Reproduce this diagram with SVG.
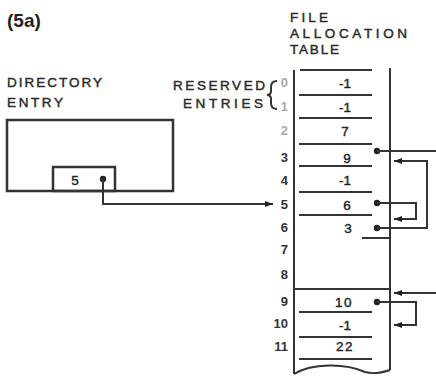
<svg xmlns="http://www.w3.org/2000/svg" width="436" height="376" viewBox="0 0 436 376">
<style>
.t{font-family:"Liberation Sans",Arial,sans-serif;font-size:13.5px;fill:#2a2a2a;stroke:#2a2a2a;stroke-width:0.45}
.lbl{font-family:"Liberation Sans",Arial,sans-serif;font-size:13px;font-weight:bold;fill:#333;text-anchor:end}
.val{font-family:"Liberation Sans",Arial,sans-serif;font-size:13.5px;fill:#222;text-anchor:middle;stroke:#222;stroke-width:0.4}
.faint{fill:#aaa}
.ln{stroke:#333;stroke-width:2;fill:none}
.box{stroke:#333;stroke-width:2.5;fill:none}
.con{stroke:#333;stroke-width:2;fill:none}
.dot{fill:#222}
</style>
<defs>
<marker id="ah" viewBox="0 0 8 6" refX="8" refY="3" markerWidth="8" markerHeight="6" markerUnits="userSpaceOnUse" orient="auto">
<path d="M0,0 L8,3 L0,6 z" fill="#222"/>
</marker>
</defs>
<rect width="436" height="376" fill="#fff"/>
<text x="7" y="27" font-family="Liberation Sans,Arial,sans-serif" font-size="19" font-weight="bold" fill="#222">(5a)</text>

<g id="directory-entry">
<text class="t" x="7" y="87" textLength="95" lengthAdjust="spacing">DIRECTORY</text>
<text class="t" x="7" y="107" textLength="56" lengthAdjust="spacing">ENTRY</text>
<rect class="box" x="7" y="120" width="166" height="71"/>
<rect class="box" x="53" y="167" width="62" height="24"/>
<text class="val" x="75" y="185">5</text>
</g>

<g id="fat-title">
<text class="t" x="290" y="22" textLength="38" lengthAdjust="spacing">FILE</text>
<text class="t" x="290" y="38" textLength="117" lengthAdjust="spacing">ALLOCATION</text>
<text class="t" x="290" y="54" textLength="49" lengthAdjust="spacing">TABLE</text>
</g>

<g id="reserved-label">
<text class="t" x="173" y="90" textLength="92" lengthAdjust="spacing">RESERVED</text>
<text class="t" x="183" y="108" textLength="80" lengthAdjust="spacing">ENTRIES</text>
<path class="ln" stroke-width="1.8" d="M277,81 Q271,81 271,87 L271,91 Q271,95 267,95 Q271,95 271,99 L271,103 Q271,109 277,109"/>
</g>

<g id="fat-table">
<path class="ln" d="M294,70 V374"/>
<path class="ln" d="M390,68 V370"/>
<path class="ln" d="M294,374 C312,363 345,363 365,372 C375,375 384,372 390,370"/>
<path class="ln" d="M300,70 H372 M299,95 H372 M299,118 H372 M299,144 H372 M299,166 H372 M299,192 H372 M299,215 H372 M362,238 H390 M294,289 H390 M299,312 H372 M299,337 H372 M299,359 H372"/>
</g>

<g id="row-labels">
<text class="lbl faint" x="288" y="87">0</text>
<text class="lbl faint" x="288" y="111">1</text>
<text class="lbl faint" x="288" y="135">2</text>
<text class="lbl" x="288" y="162">3</text>
<text class="lbl" x="288" y="185">4</text>
<text class="lbl" x="288" y="209">5</text>
<text class="lbl" x="288" y="232">6</text>
<text class="lbl" x="288" y="254">7</text>
<text class="lbl" x="288" y="279">8</text>
<text class="lbl" x="288" y="306">9</text>
<text class="lbl" x="288" y="328">10</text>
<text class="lbl" x="288" y="351">11</text>
</g>

<g id="row-values">
<text class="val" x="345" y="88">-1</text>
<text class="val" x="345" y="112">-1</text>
<text class="val" x="345" y="136">7</text>
<text class="val" x="347" y="163">9</text>
<text class="val" x="345" y="185">-1</text>
<text class="val" x="347" y="210">6</text>
<text class="val" x="348" y="233">3</text>
<text class="val" x="344" y="307" letter-spacing="1.5">10</text>
<text class="val" x="345" y="330">-1</text>
<text class="val" x="345" y="351" letter-spacing="1.5">22</text>
</g>

<g id="connectors">
<circle class="dot" cx="103" cy="179" r="3.2"/>
<path class="con" d="M103,179 V204 H273" marker-end="url(#ah)"/>
<circle class="dot" cx="377" cy="151" r="3.2"/>
<path class="con" d="M377,151 H436"/>
<circle class="dot" cx="377" cy="228" r="3.2"/>
<path class="con" d="M377,228 H427 V161 H394" marker-end="url(#ah)"/>
<circle class="dot" cx="377" cy="203" r="3.2"/>
<path class="con" d="M377,203 H416 V219 H394" marker-end="url(#ah)"/>
<path class="con" d="M436,293 H394" marker-end="url(#ah)"/>
<circle class="dot" cx="377" cy="302" r="3.2"/>
<path class="con" d="M377,302 H416 V325 H394" marker-end="url(#ah)"/>
</g>
</svg>
